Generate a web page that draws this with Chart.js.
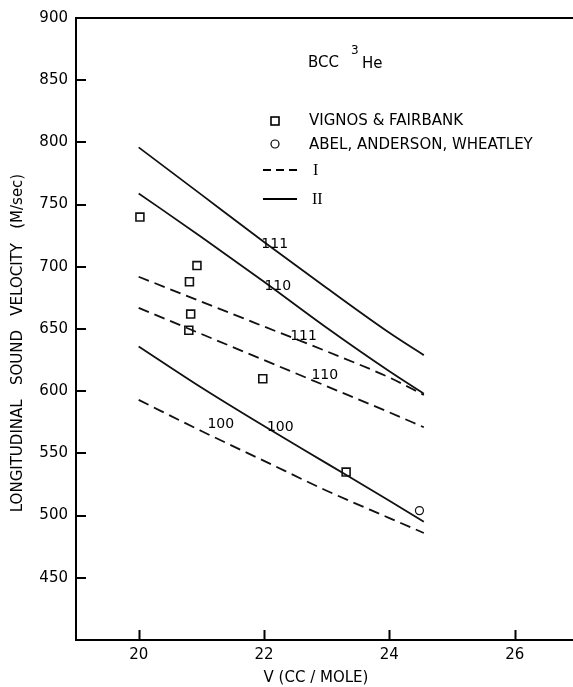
<!DOCTYPE html>
<html>
<head>
<meta charset="utf-8">
<script src="https://cdn.jsdelivr.net/npm/chart.js@4/dist/chart.umd.min.js"></script>
<style>
  html, body { margin: 0; padding: 0; background: #fff; overflow: hidden; }
  #wrap { width: 573px; height: 687px; position: relative; }
  canvas { display: block; }
</style>
</head>
<body>
<div id="wrap"><canvas id="sound-chart"></canvas></div>
<script>
// molar volume (cc/mole) at which the curves were read
const volumes = [20, 21, 22, 23, 24, 24.55];

// theory II (solid)
const solid111 = [796, 758, 720, 683, 647, 629];
const solid110 = [759, 724, 688, 651, 616, 598];
const solid100 = [636, 603, 572, 542, 512, 495];

// theory I (dashed)
const dashed111 = [692, 672, 652, 632, 611, 597];
const dashed110 = [667, 646, 625, 604, 583, 571];
const dashed100 = [593, 568, 544, 520, 498, 486];

// Vignos & Fairbank
const vfVolume = [20.02, 20.93, 20.81, 20.83, 20.80, 21.98, 23.31];
const vfSpeed  = [740, 701, 688, 662, 649, 610, 535];

// Abel, Anderson, Wheatley
const aawVolume = [24.48];
const aawSpeed  = [504];

const xTicks = [20, 22, 24, 26];
const yTicks = [450, 500, 550, 600, 650, 700, 750, 800, 850, 900];

// direction labels next to the curves, in data coordinates
const curveLabels = [
  { text: '111', x: 22.17, y: 718 },
  { text: '110', x: 22.22, y: 684 },
  { text: '111', x: 22.63, y: 644 },
  { text: '110', x: 22.97, y: 613 },
  { text: '100', x: 21.31, y: 573 },
  { text: '100', x: 22.26, y: 571 },
];

const FONT = '"DejaVu Sans", sans-serif';

const pts = (xs, ys) => xs.map((v, i) => ({ x: v, y: ys[i] }));

function curve(vals, dashed) {
  return {
    data: pts(volumes, vals),
    showLine: true,
    borderColor: '#111',
    borderWidth: 1.8,
    borderDash: dashed ? [11, 6] : [],
    pointRadius: 0,
    cubicInterpolationMode: 'monotone',
  };
}

const overlay = {
  id: 'overlay',
  afterDraw(chart) {
    const { ctx, chartArea: a, scales: { x, y } } = chart;
    ctx.save();
    ctx.strokeStyle = '#000';
    ctx.fillStyle = '#000';

    // top frame line + inward tick marks
    ctx.lineWidth = 2;
    ctx.beginPath();
    ctx.moveTo(a.left, a.top);
    ctx.lineTo(a.right, a.top);
    xTicks.forEach(v => {
      const px = Math.round(x.getPixelForValue(v)) + 0.5;
      ctx.moveTo(px, a.bottom);
      ctx.lineTo(px, a.bottom - 10);
    });
    yTicks.forEach(v => {
      const py = Math.round(y.getPixelForValue(v));
      ctx.moveTo(a.left, py);
      ctx.lineTo(a.left + 10, py);
    });
    ctx.stroke();

    // curve labels
    ctx.font = '14px ' + FONT;
    ctx.textAlign = 'center';
    ctx.textBaseline = 'middle';
    curveLabels.forEach(l => {
      ctx.fillText(l.text, x.getPixelForValue(l.x), y.getPixelForValue(l.y));
    });

    // title block
    ctx.textAlign = 'left';
    ctx.font = '15px ' + FONT;
    ctx.fillText('BCC', 308, 63);
    ctx.fillText('He', 362, 64);
    ctx.font = '12px ' + FONT;
    ctx.fillText('3', 351, 51);

    // legend
    ctx.lineWidth = 1.6;
    ctx.strokeRect(271, 117, 8, 8);
    ctx.lineWidth = 1.2;
    ctx.beginPath();
    ctx.arc(275, 144, 4, 0, Math.PI * 2);
    ctx.stroke();
    ctx.lineWidth = 1.8;
    ctx.setLineDash([8, 5]);
    ctx.beginPath();
    ctx.moveTo(263, 170);
    ctx.lineTo(297, 170);
    ctx.stroke();
    ctx.setLineDash([]);
    ctx.beginPath();
    ctx.moveTo(263, 199);
    ctx.lineTo(297, 199);
    ctx.stroke();

    ctx.font = '15px ' + FONT;
    ctx.fillText('VIGNOS & FAIRBANK', 309, 121);
    ctx.fillText('ABEL, ANDERSON, WHEATLEY', 309, 145);
    ctx.font = '16px "Liberation Serif", serif';
    ctx.fillText('I', 313, 171);
    ctx.fillText('II', 312, 200);

    // axis titles
    ctx.font = '15px ' + FONT;
    ctx.textAlign = 'center';
    ctx.fillText('V (CC / MOLE)', 316, 678);
    ctx.translate(18, 343);
    ctx.rotate(-Math.PI / 2);
    ctx.fillText('LONGITUDINAL   SOUND   VELOCITY   (M/sec)', 0, 0);
    ctx.restore();
  }
};

const ctx = document.getElementById('sound-chart').getContext('2d');

const soundChart = new Chart(ctx, {
  type: 'scatter',
  data: {
    datasets: [
      curve(solid111, false),
      curve(solid110, false),
      curve(solid100, false),
      curve(dashed111, true),
      curve(dashed110, true),
      curve(dashed100, true),
      {
        data: pts(vfVolume, vfSpeed),
        pointStyle: 'rect',
        pointRadius: 5.6,
        borderColor: '#111',
        borderWidth: 1.6,
        backgroundColor: '#fff',
      },
      {
        data: pts(aawVolume, aawSpeed),
        pointStyle: 'circle',
        pointRadius: 4,
        borderColor: '#111',
        borderWidth: 1.2,
        backgroundColor: '#fff',
      },
    ]
  },
  options: {
    responsive: true,
    maintainAspectRatio: false,
    animation: false,
    layout: { autoPadding: false, padding: { top: 18, right: 0, bottom: 0, left: 0 } },
    plugins: {
      legend: { display: false },
      tooltip: { enabled: false },
    },
    scales: {
      x: {
        type: 'linear',
        min: 19,
        max: 26.93,
        afterBuildTicks: s => { s.ticks = xTicks.map(v => ({ value: v })); },
        afterFit: s => { s.height = 47; s.paddingLeft = 0; s.paddingRight = 0; },
        grid: { display: false, drawTicks: false },
        border: { display: true, color: '#000', width: 2 },
        ticks: { padding: 6, color: '#000', font: { family: FONT, size: 15 } },
      },
      y: {
        type: 'linear',
        min: 400,
        max: 900,
        afterBuildTicks: s => { s.ticks = yTicks.map(v => ({ value: v })); },
        afterFit: s => { s.width = 76; },
        grid: { display: false, drawTicks: false },
        border: { display: true, color: '#000', width: 2 },
        ticks: { padding: 8, color: '#000', font: { family: FONT, size: 15 } },
      },
    }
  },
  plugins: [overlay]
});
</script>
</body>
</html>
